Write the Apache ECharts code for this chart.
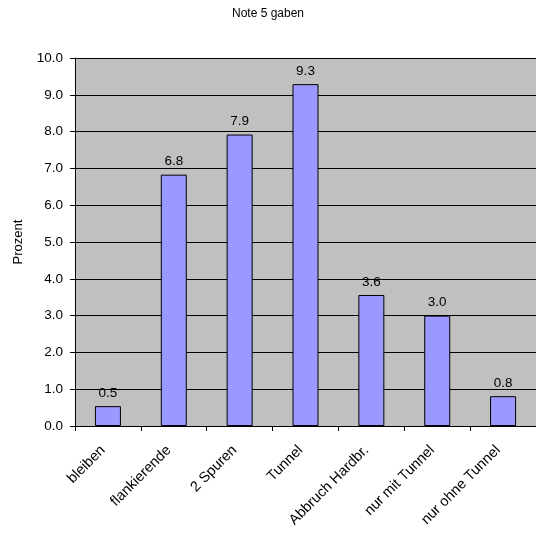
<!DOCTYPE html>
<html><head><meta charset="utf-8">
<script src="https://cdn.jsdelivr.net/npm/echarts@6/dist/echarts.min.js"></script>
<style>html,body{margin:0;padding:0;background:#fff}#c{width:536px;height:536px}</style>
</head><body><div id="c"></div>
<script>
const categories = ['bleiben','flankierende','2 Spuren','Tunnel','Abbruch Hardbr.','nur mit Tunnel','nur ohne Tunnel'];
const values = [0.54, 6.83, 7.92, 9.29, 3.56, 3.0, 0.81];
const yTicks = {min: 0, max: 10, interval: 1};
const chart = echarts.init(document.getElementById('c'), null, {renderer: 'canvas'});
const font = 'Liberation Sans, Arial, sans-serif';
chart.setOption({
  animation: false,
  backgroundColor: '#fff',
  title: {text: 'Note 5 gaben', left: 'center', top: 3,
    textStyle: {fontFamily: font, fontSize: 12, fontWeight: 'normal', color: '#000'}},
  grid: {left: 75, top: 58, width: 462, bottom: 110, show: true, backgroundColor: '#C0C0C0', borderWidth: 0},
  xAxis: {type: 'category', data: categories,
    axisLine: {lineStyle: {color: '#000', width: 1}},
    axisTick: {show: true, length: 5, lineStyle: {color: '#000'}},
    axisLabel: {rotate: 45, fontFamily: font, fontSize: 14.5, color: '#000', margin: 17, padding: [0, 7, 0, 0]}},
  yAxis: {type: 'value', min: yTicks.min, max: yTicks.max, interval: yTicks.interval,
    name: 'Prozent', nameLocation: 'middle', nameGap: 50, nameRotate: 90,
    nameTextStyle: {fontFamily: font, fontSize: 13, color: '#000'},
    axisLine: {show: true, lineStyle: {color: '#000', width: 1}},
    axisTick: {show: true, length: 5, lineStyle: {color: '#000'}},
    splitLine: {show: true, lineStyle: {color: '#000', width: 1}},
    axisLabel: {fontFamily: font, fontSize: 13.5, color: '#000', margin: 12, formatter: v => v.toFixed(1)}},
  series: [{type: 'bar', data: values, barWidth: 26,
    itemStyle: {color: '#9999FF', borderColor: '#000', borderWidth: 1},
    label: {show: true, position: 'top', distance: 6, fontFamily: font, fontSize: 13.5, color: '#000',
      formatter: p => p.value.toFixed(1)}}]
});
</script></body></html>
